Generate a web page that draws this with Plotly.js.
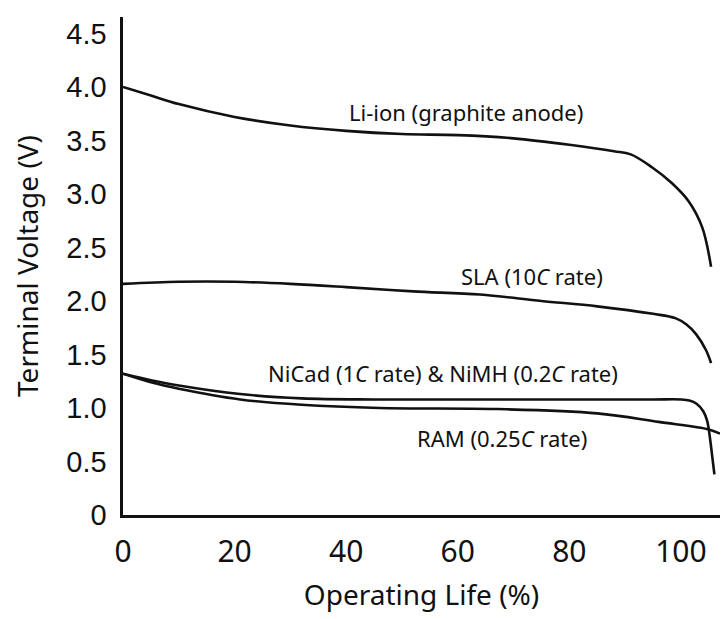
<!DOCTYPE html>
<html>
<head>
<meta charset="utf-8">
<script src="https://cdn.plot.ly/plotly-3.0.1.min.js"></script>
<style>
  html, body { margin: 0; padding: 0; background: #ffffff; }
  #chart { width: 726px; height: 619px; }
</style>
</head>
<body>
<div id="chart"></div>
<script>
// Operating life (%) and terminal voltage (V) for each chemistry
const liionX = [0, 5, 10, 20, 30, 40, 50, 60, 70, 80, 88, 91, 94.8, 98.4, 101.4, 103.8, 105.4];
const liionV = [4.0, 3.92, 3.84, 3.72, 3.64, 3.59, 3.56, 3.55, 3.52, 3.46, 3.40, 3.37, 3.25, 3.10, 2.93, 2.69, 2.32];

const slaX = [0, 10, 20, 30, 40, 52, 64, 75, 85, 95, 99, 101, 102.7, 104.5, 105.4];
const slaV = [2.16, 2.18, 2.18, 2.16, 2.13, 2.09, 2.06, 2.00, 1.95, 1.88, 1.84, 1.78, 1.69, 1.54, 1.42];

const nicadX = [0, 5, 10, 21, 32, 45, 60, 80, 95, 100, 101.5, 102.8, 104, 104.7, 105.2, 105.6, 106];
const nicadV = [1.32, 1.26, 1.21, 1.13, 1.09, 1.08, 1.08, 1.08, 1.08, 1.08, 1.07, 1.04, 0.97, 0.88, 0.72, 0.55, 0.38];

const ramX = [0, 5, 10, 21, 32, 46, 67, 85, 96, 105, 107];
const ramV = [1.32, 1.24, 1.18, 1.08, 1.03, 1.00, 0.99, 0.95, 0.87, 0.80, 0.76];

const xTicks = [0, 20, 40, 60, 80, 100];
const yTicks = [0, 0.5, 1.0, 1.5, 2.0, 2.5, 3.0, 3.5, 4.0, 4.5];
const yTickText = ["0", "0.5", "1.0", "1.5", "2.0", "2.5", "3.0", "3.5", "4.0", "4.5"];

const seriesLabels = [
  "Li-ion (graphite anode)",
  "SLA (10<i>C</i> rate)",
  "NiCad (1<i>C</i> rate) &amp; NiMH (0.2<i>C</i> rate)",
  "RAM (0.25<i>C</i> rate)"
];

const lineStyle = { color: "#111111", width: 2.6, shape: "spline", smoothing: 1 };

function curve(x, y) {
  return { x: x, y: y, type: "scatter", mode: "lines", line: lineStyle, hoverinfo: "skip", showlegend: false };
}

const data = [
  curve(liionX, liionV),
  curve(slaX, slaV),
  curve(nicadX, nicadV),
  curve(ramX, ramV)
];

const textFont = { family: "Noto Sans, DejaVu Sans, sans-serif", size: 22, color: "#111111" };
const labelPos = [
  { x: 61.4, y: 3.77 },
  { x: 73.3, y: 2.23 },
  { x: 57.4, y: 1.33 },
  { x: 68.0, y: 0.72 }
];

const annotations = seriesLabels.map((t, i) => ({
  text: t, x: labelPos[i].x, y: labelPos[i].y, xref: "x", yref: "y",
  showarrow: false, font: textFont, xanchor: "center", yanchor: "middle"
}));

const layout = {
  width: 726,
  height: 619,
  margin: { l: 123, r: 6, t: 17, b: 104, pad: 0 },
  paper_bgcolor: "#ffffff",
  plot_bgcolor: "#ffffff",
  showlegend: false,
  xaxis: {
    range: [0, 107],
    tickvals: xTicks,
    ticktext: xTicks.map(String),
    showgrid: false,
    zeroline: false,
    showline: true,
    linecolor: "#111111",
    linewidth: 2.6,
    ticks: "",
    ticklabelstandoff: 8,
    tickfont: { family: "Noto Sans, DejaVu Sans, sans-serif", size: 30, color: "#111111" },
    title: { text: "Operating Life (%)", standoff: 16,
             font: { family: "Noto Sans, DejaVu Sans, sans-serif", size: 28, color: "#111111" } },
    fixedrange: true
  },
  yaxis: {
    range: [0, 4.654],
    tickvals: yTicks,
    ticktext: yTickText,
    showgrid: false,
    zeroline: false,
    showline: true,
    linecolor: "#111111",
    linewidth: 2.6,
    ticks: "",
    ticklabelstandoff: 8,
    tickfont: { family: "Liberation Sans, Arial, sans-serif", size: 29, color: "#111111" },
    title: { text: "Terminal Voltage (V)", standoff: 20,
             font: { family: "Noto Sans, DejaVu Sans, sans-serif", size: 28, color: "#111111" } },
    fixedrange: true
  },
  annotations: annotations
};

Plotly.newPlot("chart", data, layout, { staticPlot: true, displayModeBar: false });
</script>
</body>
</html>
